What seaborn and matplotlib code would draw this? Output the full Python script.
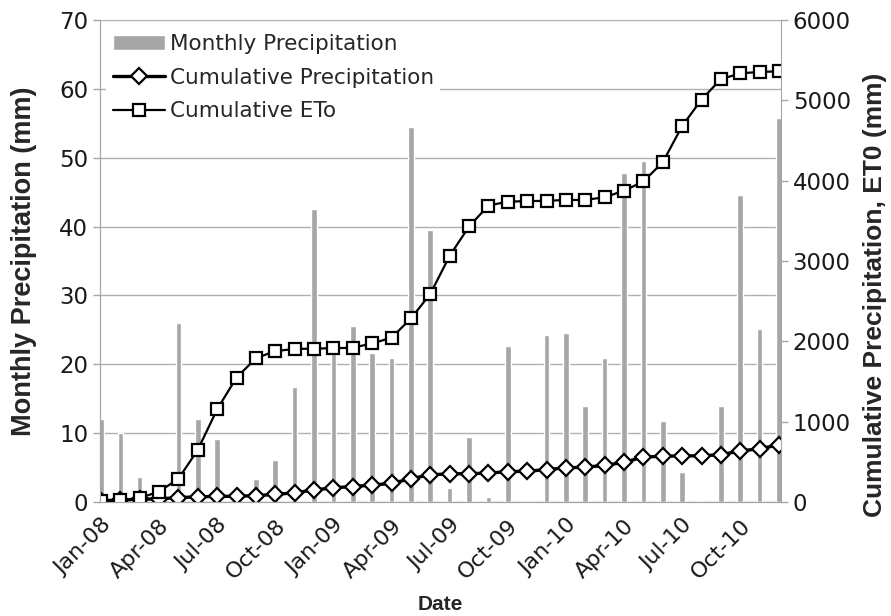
import numpy as np
import pandas as pd
import seaborn as sns
import matplotlib.pyplot as plt

# monthly data, Jan-08 .. Dec-10
month_idx = np.arange(36)
monthly_precip = [12.0, 10.0, 3.6, 0.0, 26.0, 12.0, 9.1, 0.0, 3.4, 6.1, 16.7, 42.6,
                  22.5, 25.5, 21.6, 20.9, 54.5, 39.5, 2.0, 9.5, 0.7, 22.6, 0.0, 24.2,
                  24.6, 13.9, 20.9, 47.8, 49.5, 11.7, 4.3, 0.0, 13.9, 44.6, 25.2, 55.8]
cum_precip = [15, 25, 35, 40, 55, 65, 70, 72, 80, 95, 115, 150,
              178, 192, 212, 232, 290, 340, 350, 355, 358, 380, 382, 405,
              425, 435, 455, 495, 560, 570, 575, 575, 590, 635, 665, 710]
cum_eto = [10, 25, 50, 130, 290, 650, 1155, 1550, 1790, 1880, 1905, 1910,
           1915, 1920, 1975, 2045, 2285, 2590, 3065, 3430, 3690, 3740, 3745, 3750,
           3760, 3760, 3795, 3875, 3990, 4230, 4680, 5010, 5265, 5335, 5355, 5360]
tick_pos = [0, 3, 6, 9, 12, 15, 18, 21, 24, 27, 30, 33]
tick_labels = ['Jan-08', 'Apr-08', 'Jul-08', 'Oct-08', 'Jan-09', 'Apr-09',
               'Jul-09', 'Oct-09', 'Jan-10', 'Apr-10', 'Jul-10', 'Oct-10']

df = pd.DataFrame({'month': month_idx, 'precip': monthly_precip,
                   'cum_p': cum_precip, 'cum_eto': cum_eto})

sns.set_style('white')
plt.rcParams['font.family'] = ['DejaVu Sans']

grey = '#a6a6a6'
fig, ax = plt.subplots(figsize=(8.91, 6.16), dpi=100)
fig.subplots_adjust(left=0.1122, right=0.8765, bottom=0.185, top=0.9675)

sns.barplot(data=df, x='month', y='precip', native_scale=True, color=grey,
            saturation=1, width=0.29, errorbar=None, ax=ax,
            label='Monthly Precipitation', zorder=2)
ax.set_ylim(0, 70)
ax.set_yticks(range(0, 71, 10))
ax.yaxis.grid(True, color='#b0b0b0', lw=1)
ax.set_axisbelow(True)

ax2 = ax.twinx()
sns.lineplot(data=df, x='month', y='cum_p', ax=ax2, color='black', lw=2.4,
             marker='D', markersize=8.5, markerfacecolor='white',
             markeredgecolor='black', markeredgewidth=1.6,
             label='Cumulative Precipitation')
sns.lineplot(data=df, x='month', y='cum_eto', ax=ax2, color='black', lw=1.6,
             marker='s', markersize=8.5, markerfacecolor='white',
             markeredgecolor='black', markeredgewidth=1.6,
             label='Cumulative ETo')
ax2.set_ylim(0, 6000)
ax2.set_yticks(range(0, 6001, 1000))

ax.set_xlim(-0.05, 35.1)
ax.set_xticks(tick_pos)
ax.set_xticklabels(tick_labels, rotation=45, ha='right', rotation_mode='anchor')

for a in (ax, ax2):
    for s in a.spines.values():
        s.set_color(grey)
    a.spines['top'].set_visible(False)
    a.tick_params(colors=grey, labelcolor='#1a1a1a', labelsize=16.5, length=5, width=1)
ax.tick_params(axis='x', labelsize=16, length=6)
ax.spines['right'].set_visible(False)

lab_font = dict(family=['Liberation Sans', 'DejaVu Sans'], fontweight='bold')
ax.set_xlabel('Date', fontsize=15, labelpad=9, **lab_font)
ax.set_ylabel('Monthly Precipitation (mm)', fontsize=19.5, **lab_font)
ax2.set_ylabel('Cumulative Precipitation, ET0 (mm)', fontsize=19, **lab_font)
ax.yaxis.set_label_coords(-0.093, 0.5)
ax2.yaxis.set_label_coords(1.12, 0.43)

if ax.get_legend() is not None:
    ax.get_legend().remove()
h1, l1 = ax.get_legend_handles_labels()
h2, l2 = ax2.get_legend_handles_labels()
leg = ax2.legend(h1 + h2, l1 + l2, loc='upper left', bbox_to_anchor=(0.0, 0.997),
                 fontsize=15.5, frameon=True, facecolor='white', edgecolor='none',
                 framealpha=1, fancybox=False, handlelength=2.4, handletextpad=0.23,
                 labelspacing=0.62, borderaxespad=0.3, borderpad=0.3)

plt.savefig('out.png', dpi=100)
